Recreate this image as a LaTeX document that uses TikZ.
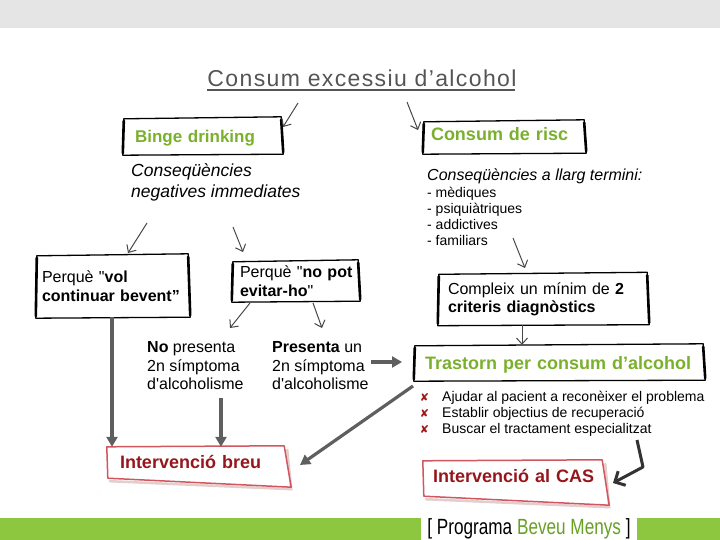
\documentclass[tikz,border=0pt]{standalone}
\usepackage{fontspec}
\usepackage{graphicx}
\setmainfont{Liberation Sans}
\newfontfamily\symfont{DejaVu Sans}
\usetikzlibrary{arrows.meta,calc}
\definecolor{bandgray}{RGB}{229,229,229}
\definecolor{bandgreen}{RGB}{141,198,63}
\definecolor{logogreen}{RGB}{104,160,36}
\definecolor{titlegray}{RGB}{85,85,85}
\definecolor{txtgreen}{RGB}{122,176,45}
\definecolor{darkred}{RGB}{150,22,28}
\definecolor{redline}{RGB}{208,86,96}
\definecolor{redshadow}{RGB}{228,205,205}
\definecolor{arrgray}{RGB}{95,95,95}
\definecolor{thingray}{RGB}{70,70,70}
\definecolor{xred}{RGB}{160,20,20}
\newcommand{\fs}[2]{\fontsize{#1}{#2}\selectfont}
\newcommand{\qd}{\textquotedbl}
\newcommand{\xm}{\llap{\textcolor{xred}{\symfont\fontsize{11}{11}\selectfont ✘}\hspace{13pt}}}
\newcommand{\skframe}[1]{%
  \draw[line width=1.3pt, line join=round] ($(#1.north west)+(1,1)$) -- ($(#1.north east)+(-1,-1)$) -- ($(#1.south east)+(1,0)$) -- ($(#1.south west)+(0,1)$) -- cycle;
  \draw[line width=2.6pt, line cap=round] ($(#1.north west)+(1,3)$) -- ($(#1.south west)+(0,-1)$);
  \draw[line width=2.6pt, line cap=round] ($(#1.north east)+(-1,2)$) -- ($(#1.south east)+(1,-2)$);}
\newcommand{\redframe}[1]{%
  \draw[redshadow, line width=2.5pt, line cap=round] ($(#1.south west)+(3,-2)$) -- ($(#1.south east)+(3,6)$) -- ($(#1.north east)+(-1,3)$);
  \draw[redline, line width=1.5pt, line join=round] ($(#1.north west)+(0,0)$) -- ($(#1.north east)+(-4,-1)$) -- ($(#1.south east)+(3,4)$) -- ($(#1.south west)+(1,-5)$) -- cycle;}
\begin{document}
\begin{tikzpicture}[x=1pt,y=-1pt,
  bx/.style={inner ysep=0pt, align=left},
  plain/.style={inner sep=0pt, align=left},
  thinarr/.style={thingray, line width=1pt, -{Straight Barb[length=6pt,width=11pt]}},
  thickarr/.style={arrgray, line width=3.2pt, -{Triangle[length=10pt,width=11pt]}},
  casarr/.style={black!80, line width=3pt, line join=round, -{Straight Barb[length=8pt,width=16pt]}}]
\useasboundingbox (0,0) rectangle (720,540);
\fill[bandgray] (0,0) rectangle (720,28);
\fill[bandgreen] (0,518) rectangle (720,540);
\fill[white] (421,517) rectangle (637,540);
\node[inner sep=0pt, font=\fs{22}{24}] (logo) at (529,529) {\scalebox{0.78}[1]{[ Programa \textcolor{logogreen}{Beveu Menys} ]}};

% title
\node[inner sep=0pt, anchor=base, text=titlegray, font=\fs{23}{26}\addfontfeatures{LetterSpace=6}] (title) at (362,87) {Consum excessiu d’alcohol};
\draw[titlegray, line width=1.6pt] ($(title.base west)+(0,2.8)$) -- ($(title.base east)+(-2,2.8)$);

% top boxes
\node[bx, font=\fs{17}{20}\bfseries, text=txtgreen, text width=135pt, inner xsep=12pt, minimum height=36pt, text height=12.2pt, text depth=0pt] (binge) at (202.5,136) {Binge drinking};
\skframe{binge}
\node[bx, font=\fs{18}{21}\bfseries, text=txtgreen, text width=146pt, inner xsep=8pt, minimum height=32pt, text height=13pt, text depth=5pt] (risk) at (504,137) {Consum de risc};
\skframe{risk}

% consequences
\node[plain, anchor=north west, font=\fs{17.5}{21}\itshape] (negl) at (131,163) {Conseqüències\\negatives immediates};
\node[plain, anchor=base west, font=\fs{16}{19}\itshape] (riskhead) at (427,181) {Conseqüències a llarg termini:};
\node[plain, anchor=north west, font=\fs{14}{16}] (risklist) at (427,186.6) {- mèdiques\\- psiquiàtriques\\- addictives\\- familiars};

% perque boxes
\node[bx, font=\fs{16}{19}, text width=141pt, inner xsep=6pt, minimum height=62pt] (vol) at (112.5,286) {\mbox{Perquè \qd\textbf{vol}}\\\mbox{\textbf{continuar bevent”}}};
\skframe{vol}
\node[bx, font=\fs{16}{19}, text width=111pt, inner xsep=8pt, minimum height=40pt] (nopot) at (295.5,281) {\mbox{Perquè \qd\textbf{no pot}}\\\mbox{\textbf{evitar-ho}\qd}};
\skframe{nopot}

% symptom texts
\node[plain, anchor=north west, font=\fs{16}{18.5}] (nopres) at (147,341.5) {\textbf{No} presenta\\2n símptoma\\d\textquotesingle alcoholisme};
\node[plain, anchor=north west, font=\fs{16}{18.5}] (pres) at (272,341.5) {\textbf{Presenta} un\\2n símptoma\\d\textquotesingle alcoholisme};

% right column
\node[bx, font=\fs{16}{18}, text width=190pt, inner xsep=10pt, minimum height=51pt] (compleix) at (543,299) {Compleix un mínim de \textbf{2}\\\textbf{criteris diagnòstics}};
\skframe{compleix}
\node[bx, font=\fs{18}{21}\bfseries, text=txtgreen, text width=268pt, inner xsep=11pt, minimum height=35pt, text height=13pt, text depth=0pt] (trastorn) at (559,362.5) {Trastorn per consum d’alcohol};
\skframe{trastorn}
\node[plain, anchor=north west, font=\fs{14}{16}] (tasks) at (442,390.8) {\xm Ajudar al pacient a reconèixer el problema\\\xm Establir objectius de recuperació\\\xm Buscar el tractament especialitzat};

% red boxes
\node[bx, font=\fs{18}{21}\bfseries, text=darkred, text width=155pt, inner xsep=13pt, minimum height=36pt, text height=13pt, text depth=7pt] (breu) at (197.5,465) {Intervenció breu};
\redframe{breu}
\node[bx, font=\fs{18}{21}\bfseries, text=darkred, text width=163pt, inner xsep=10pt, minimum height=40pt, text height=13pt, text depth=11pt] (cas) at (514.5,481) {Intervenció al CAS};
\redframe{cas}

% coordinates
\coordinate (t1s) at (298,103); \coordinate (t1e) at (283,127);
\coordinate (t2s) at (407,102); \coordinate (t2e) at (418,130);
\coordinate (a1s) at (147,223); \coordinate (a1e) at (128,253);
\coordinate (a2s) at (233,227); \coordinate (a2e) at (243,252);
\coordinate (a3s) at (250,303); \coordinate (a3e) at (230,328);
\coordinate (a4s) at (313,303); \coordinate (a4e) at (322,328);
\coordinate (a5s) at (513,238); \coordinate (a5e) at (525,268);
\coordinate (a6x) at (522,0);
\coordinate (b1x) at (112,0);
\coordinate (b2s) at (221,398);
\coordinate (b3s) at (371,362); \coordinate (b3e) at (402,362);
\coordinate (b4s) at (413,386); \coordinate (b4e) at (300,465);
\coordinate (c1) at (637,440); \coordinate (c2) at (643,467); \coordinate (c3) at (613,483);

% thin arrows
\draw[thinarr] (t1s) -- (t1e);
\draw[thinarr] (t2s) -- (t2e);
\draw[thinarr] (a1s) -- (a1e);
\draw[thinarr] (a2s) -- (a2e);
\draw[thinarr] (a3s) -- (a3e);
\draw[thinarr] (a4s) -- (a4e);
\draw[thinarr] (a5s) -- (a5e);
\draw[thinarr] (compleix.south -| a6x) -- (trastorn.north -| a6x);

% thick arrows
\draw[thickarr] (vol.south -| b1x) -- (breu.north -| b1x);
\draw[thickarr] (b2s) -- (breu.north -| b2s);
\draw[thickarr] (b3s) -- (b3e);
\draw[thickarr] (b4s) -- (b4e);
\draw[casarr] (c1) -- (c2) -- (c3);
\end{tikzpicture}
\end{document}
